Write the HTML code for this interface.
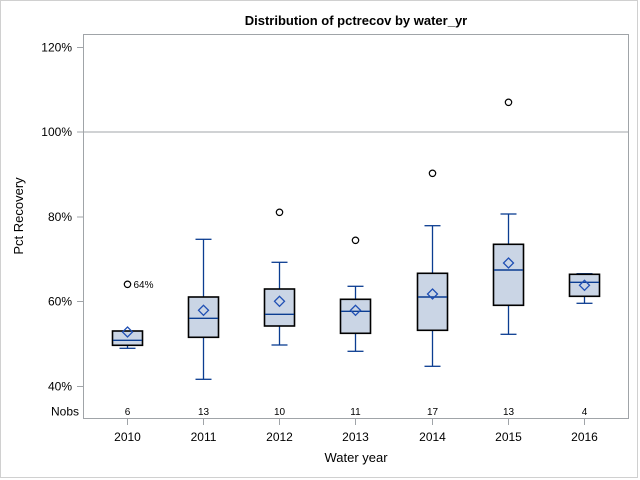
<!DOCTYPE html>
<html><head><meta charset="utf-8"><style>
html,body{margin:0;padding:0;background:#fff;}
svg{display:block;}
text{font-family:"Liberation Sans",Arial,sans-serif;fill:#000;}
</style></head><body>
<svg width="640" height="480" viewBox="0 0 640 480" xmlns="http://www.w3.org/2000/svg">
<rect x="0.5" y="0.5" width="637" height="477" fill="#fff" stroke="#d0d0d0" stroke-width="1"/>
<text x="356" y="25" font-size="13" font-weight="bold" text-anchor="middle">Distribution of pctrecov by water_yr</text>
<!-- plot frame -->
<rect x="83.5" y="34.5" width="545" height="384" fill="#fff" stroke="#a0a4a8" stroke-width="1"/>
<!-- ref line 100% -->
<line x1="83.5" y1="132" x2="628.5" y2="132" stroke="#a0a4a8" stroke-width="1"/>
<!-- y ticks -->
<g stroke="#a0a4a8" stroke-width="1">
<line x1="77" y1="47.5" x2="83" y2="47.5"/>
<line x1="77" y1="132" x2="83" y2="132"/>
<line x1="77" y1="217" x2="83" y2="217"/>
<line x1="77" y1="301.5" x2="83" y2="301.5"/>
<line x1="77" y1="386.5" x2="83" y2="386.5"/>
</g>
<g font-size="12" text-anchor="end">
<text x="72" y="51.5">120%</text>
<text x="72" y="136">100%</text>
<text x="72" y="221">80%</text>
<text x="72" y="305.5">60%</text>
<text x="72" y="390.5">40%</text>
<text x="79" y="415.5">Nobs</text>
</g>
<text transform="translate(23,216) rotate(-90)" font-size="13" text-anchor="middle">Pct Recovery</text>
<!-- x ticks -->
<g stroke="#a0a4a8" stroke-width="1">
<line x1="127.5" y1="419" x2="127.5" y2="425"/>
<line x1="203.5" y1="419" x2="203.5" y2="425"/>
<line x1="279.5" y1="419" x2="279.5" y2="425"/>
<line x1="355.5" y1="419" x2="355.5" y2="425"/>
<line x1="432.5" y1="419" x2="432.5" y2="425"/>
<line x1="508.5" y1="419" x2="508.5" y2="425"/>
<line x1="584.5" y1="419" x2="584.5" y2="425"/>
</g>
<g font-size="12" text-anchor="middle">
<text x="127.5" y="441">2010</text>
<text x="203.5" y="441">2011</text>
<text x="279.5" y="441">2012</text>
<text x="355.5" y="441">2013</text>
<text x="432.5" y="441">2014</text>
<text x="508.5" y="441">2015</text>
<text x="584.5" y="441">2016</text>
</g>
<g font-size="10" text-anchor="middle">
<text x="127.5" y="415">6</text>
<text x="203.5" y="415">13</text>
<text x="279.5" y="415">10</text>
<text x="355.5" y="415">11</text>
<text x="432.5" y="415">17</text>
<text x="508.5" y="415">13</text>
<text x="584.5" y="415">4</text>
</g>
<text x="356" y="462" font-size="13" text-anchor="middle">Water year</text>

<!-- boxes -->
<g stroke="#0b3d91" stroke-width="1.3" fill="none">
<!-- whiskers -->
<line x1="127.5" y1="345.3" x2="127.5" y2="348.3"/><line x1="119.5" y1="348.3" x2="135.5" y2="348.3"/>
<line x1="203.5" y1="239.3" x2="203.5" y2="297"/><line x1="203.5" y1="337.3" x2="203.5" y2="379.3"/>
<line x1="195.5" y1="239.3" x2="211.5" y2="239.3"/><line x1="195.5" y1="379.3" x2="211.5" y2="379.3"/>
<line x1="279.5" y1="262.3" x2="279.5" y2="289"/><line x1="279.5" y1="326" x2="279.5" y2="345"/>
<line x1="271.5" y1="262.3" x2="287.5" y2="262.3"/><line x1="271.5" y1="345" x2="287.5" y2="345"/>
<line x1="355.5" y1="286.3" x2="355.5" y2="299.3"/><line x1="355.5" y1="333.3" x2="355.5" y2="351.3"/>
<line x1="347.5" y1="286.3" x2="363.5" y2="286.3"/><line x1="347.5" y1="351.3" x2="363.5" y2="351.3"/>
<line x1="432.5" y1="225.7" x2="432.5" y2="273.3"/><line x1="432.5" y1="330.3" x2="432.5" y2="366.3"/>
<line x1="424.5" y1="225.7" x2="440.5" y2="225.7"/><line x1="424.5" y1="366.3" x2="440.5" y2="366.3"/>
<line x1="508.5" y1="214" x2="508.5" y2="244.3"/><line x1="508.5" y1="305.3" x2="508.5" y2="334.3"/>
<line x1="500.5" y1="214" x2="516.5" y2="214"/><line x1="500.5" y1="334.3" x2="516.5" y2="334.3"/>
<line x1="584.5" y1="296.3" x2="584.5" y2="303.3"/>
<line x1="576.5" y1="273.7" x2="592.5" y2="273.7"/><line x1="576.5" y1="303.3" x2="592.5" y2="303.3"/>
</g>
<g fill="#cad5e5" stroke="#000" stroke-width="1.6">
<rect x="112.5" y="331" width="30" height="14.3"/>
<rect x="188.5" y="297" width="30" height="40.3"/>
<rect x="264.5" y="289" width="30" height="37"/>
<rect x="340.5" y="299.3" width="30" height="34"/>
<rect x="417.5" y="273.3" width="30" height="57"/>
<rect x="493.5" y="244.3" width="30" height="61"/>
<rect x="569.5" y="274.3" width="30" height="22"/>
</g>
<!-- medians -->
<g stroke="#0b3d91" stroke-width="1.4">
<line x1="113" y1="340.3" x2="142" y2="340.3"/>
<line x1="189" y1="318.3" x2="218" y2="318.3"/>
<line x1="265" y1="314.3" x2="294" y2="314.3"/>
<line x1="341" y1="311.3" x2="370" y2="311.3"/>
<line x1="418" y1="297" x2="447" y2="297"/>
<line x1="494" y1="270" x2="523" y2="270"/>
<line x1="570" y1="282.3" x2="599" y2="282.3"/>
</g>
<!-- means -->
<g fill="none" stroke="#1f4fb4" stroke-width="1.3">
<path d="M127.5 327 L132.5 332 L127.5 337 L122.5 332 Z"/>
<path d="M203.5 305.3 L208.5 310.3 L203.5 315.3 L198.5 310.3 Z"/>
<path d="M279.5 296.3 L284.5 301.3 L279.5 306.3 L274.5 301.3 Z"/>
<path d="M355.5 305.3 L360.5 310.3 L355.5 315.3 L350.5 310.3 Z"/>
<path d="M432.5 289 L437.5 294 L432.5 299 L427.5 294 Z"/>
<path d="M508.5 258 L513.5 263 L508.5 268 L503.5 263 Z"/>
<path d="M584.5 280.3 L589.5 285.3 L584.5 290.3 L579.5 285.3 Z"/>
</g>
<!-- outliers -->
<g fill="none" stroke="#000" stroke-width="1.2">
<circle cx="127.5" cy="284.3" r="3.2"/>
<circle cx="279.5" cy="212.3" r="3.2"/>
<circle cx="355.5" cy="240.3" r="3.2"/>
<circle cx="432.5" cy="173.3" r="3.2"/>
<circle cx="508.5" cy="102.3" r="3.2"/>
</g>
<text x="133.5" y="288" font-size="10">64%</text>
</svg>
</body></html>
